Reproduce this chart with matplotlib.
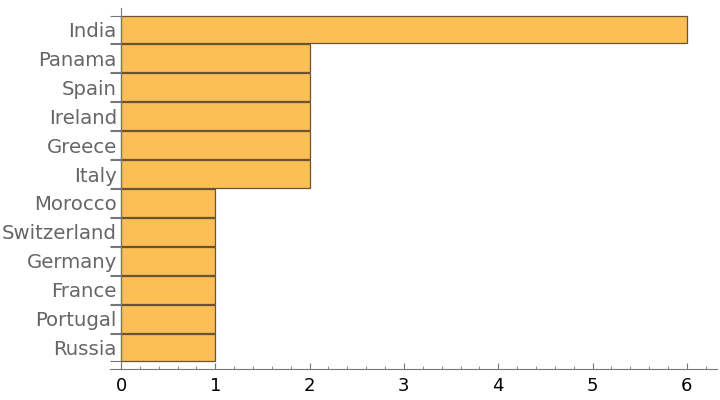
import numpy as np
import matplotlib.pyplot as plt
from matplotlib.ticker import FixedLocator, MultipleLocator

countries = ["India", "Panama", "Spain", "Ireland", "Greece", "Italy",
             "Morocco", "Switzerland", "Germany", "France", "Portugal", "Russia"]
counts = [6, 2, 2, 2, 2, 2, 1, 1, 1, 1, 1, 1]

bar_h = 0.96
fill = "#fbbf55"
edge = "#6a5433"
axis_col = "#777777"

fig = plt.figure(figsize=(7.2, 4), dpi=100)
ax = fig.add_axes([110 / 720, 1 - 369 / 400, 607 / 720, 361 / 400])

# bottom-up positions so India sits on top
ypos = np.arange(len(countries))[::-1]
ax.barh(ypos, counts, height=bar_h, color=fill, edgecolor=edge, linewidth=0.9)

ax.set_xlim(-0.117, 6.32)
ax.set_ylim(-0.742, len(countries) - 0.258)

for s in ("top", "right"):
    ax.spines[s].set_visible(False)
ax.spines["left"].set_position(("data", 0))
ax.spines["left"].set_color(axis_col)
ax.spines["bottom"].set_color(axis_col)

ax.set_yticks(ypos)
ax.set_yticklabels(countries, fontsize=14.2, color="#666666")
edges = np.concatenate([ypos - bar_h / 2, ypos + bar_h / 2])
ax.yaxis.set_minor_locator(FixedLocator(edges))
ax.tick_params(axis="y", which="major", length=0, pad=3)
ax.tick_params(axis="y", which="minor", length=8, width=0.8,
               color=axis_col, direction="out")

ax.xaxis.set_major_locator(MultipleLocator(1))
ax.xaxis.set_minor_locator(MultipleLocator(0.2))
ax.tick_params(axis="x", which="major", direction="in", length=4, width=0.8,
               color=axis_col, labelsize=13, labelcolor="black", pad=6)
ax.tick_params(axis="x", which="minor", direction="in", length=2, width=0.6,
               color=axis_col)

fig.savefig("out.png", dpi=100)
